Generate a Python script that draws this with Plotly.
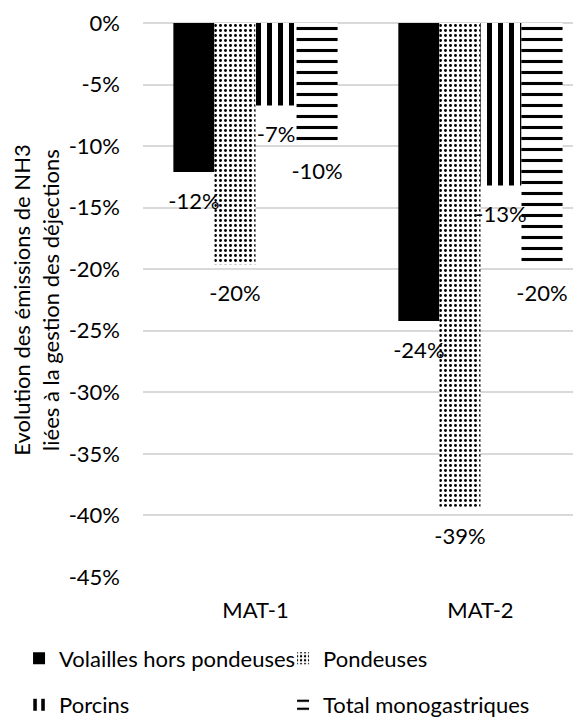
import plotly.graph_objects as go

categories = ["MAT-1", "MAT-2"]
series_names = ["Volailles hors pondeuses", "Pondeuses", "Porcins", "Total monogastriques"]
volailles = [-12.1, -24.2]
pondeuses = [-19.6, -39.3]
porcins = [-6.7, -13.2]
total = [-9.7, -19.6]
y_tick_values = [0, -5, -10, -15, -20, -25, -30, -35, -40, -45]
y_tick_labels = ["0%", "-5%", "-10%", "-15%", "-20%", "-25%", "-30%", "-35%", "-40%", "-45%"]

FONT = "Lato"
FS = 22

all_series = [volailles, pondeuses, porcins, total]
patterns = [
    dict(shape=""),
    dict(shape=".", size=5, solidity=0.28, fgcolor="black", bgcolor="white", fgopacity=1, fillmode="replace"),
    dict(shape="|", size=11, solidity=0.45, fgcolor="black", bgcolor="white", fgopacity=1, fillmode="replace"),
    dict(shape="-", size=11, solidity=0.28, fgcolor="black", bgcolor="white", fgopacity=1, fillmode="replace"),
]
colors = ["black", "white", "white", "white"]
legends = ["legend", "legend", "legend2", "legend2"]

fig = go.Figure()
for name, vals, pat, col, lg in zip(series_names, all_series, patterns, colors, legends):
    fig.add_trace(go.Bar(
        x=categories, y=vals, name=name,
        marker=dict(color=col, line=dict(width=0), pattern=pat),
        legend=lg, hoverinfo="skip",
    ))

def fmt(v):
    return f"{round(v):d}%"

for name, vals in zip(series_names, all_series):
    fig.add_trace(go.Scatter(
        x=categories, y=vals, mode="markers+text",
        text=[fmt(v) for v in vals], textposition="bottom center",
        textfont=dict(family=FONT, size=FS, color="black"),
        marker=dict(size=31, opacity=0),
        showlegend=False, hoverinfo="skip", cliponaxis=False,
    ))

leg_common = dict(orientation="h", x=-0.283, xanchor="left",
                  yanchor="middle", entrywidth=219, entrywidthmode="pixels", itemwidth=30,
                  font=dict(family=FONT, size=FS, color="black"), bgcolor="rgba(0,0,0,0)")

fig.update_layout(
    width=573, height=718,
    margin=dict(l=135, r=0, t=15, b=139),
    paper_bgcolor="white", plot_bgcolor="white",
    barmode="group", bargap=0.27, bargroupgap=0,
    scattermode="group", scattergap=0.27,
    font=dict(family=FONT, size=FS, color="black"),
    xaxis=dict(type="category", range=[-0.5, 1.447], showgrid=False, showline=False,
               zeroline=False, ticks="", ticklabelstandoff=18, automargin=False,
               tickfont=dict(family=FONT, size=FS, color="black")),
    yaxis=dict(range=[-45, 0], tickvals=y_tick_values, ticktext=y_tick_labels,
               showgrid=True, gridcolor="#d9d9d9", gridwidth=1.5,
               zeroline=True, zerolinecolor="#d9d9d9", zerolinewidth=1.5,
               showline=False, ticks="", ticklabelstandoff=22, automargin=False,
               tickfont=dict(family=FONT, size=FS, color="black"),
               title=dict(text="Evolution des émissions de NH3<br>liées à la gestion des déjections",
                          standoff=6, font=dict(family=FONT, size=FS, color="black"))),
    legend=dict(leg_common, y=-0.147),
    legend2=dict(leg_common, y=-0.231),
    showlegend=True,
)

fig.write_html("out.html")
